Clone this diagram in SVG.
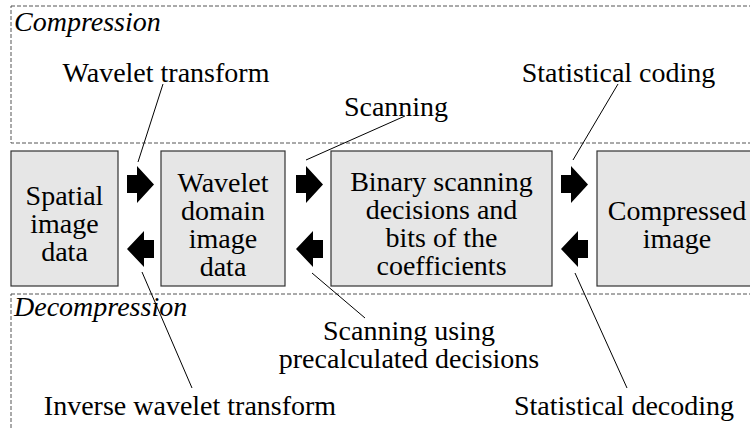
<svg xmlns="http://www.w3.org/2000/svg" width="750" height="430" viewBox="0 0 750 430">
<style>
  .region { fill: none; stroke: #555; stroke-width: 1; stroke-dasharray: 4 2; }
  .box { fill: #e6e6e6; stroke: #333; stroke-width: 1.2; }
  .lead { stroke: #000; stroke-width: 1; fill: none; }
  .arr { fill: #000; }
</style>
<g id="regions">
  <rect class="region" x="11" y="6" width="800" height="137"/>
  <rect class="region" x="11" y="294" width="800" height="200"/>
  <text x="14" y="31" style="font-family:'Liberation Serif',serif;font-size:28px;font-style:italic">Compression</text>
  <text x="14" y="316" style="font-family:'Liberation Serif',serif;font-size:28px;font-style:italic">Decompression</text>
</g>
<g id="n1">
  <rect class="box" x="11" y="151" width="107" height="135"/>
  <text x="64.5" y="205" style="font-family:'Liberation Serif',serif;font-size:28px;text-anchor:middle">Spatial</text>
  <text x="64.5" y="233" style="font-family:'Liberation Serif',serif;font-size:28px;text-anchor:middle">image</text>
  <text x="64.5" y="261" style="font-family:'Liberation Serif',serif;font-size:28px;text-anchor:middle">data</text>
</g>
<g id="n2">
  <rect class="box" x="161" y="151" width="124" height="135"/>
  <text x="223" y="192" style="font-family:'Liberation Serif',serif;font-size:28px;text-anchor:middle">Wavelet</text>
  <text x="223" y="220" style="font-family:'Liberation Serif',serif;font-size:28px;text-anchor:middle">domain</text>
  <text x="223" y="248" style="font-family:'Liberation Serif',serif;font-size:28px;text-anchor:middle">image</text>
  <text x="223" y="276" style="font-family:'Liberation Serif',serif;font-size:28px;text-anchor:middle">data</text>
</g>
<g id="n3">
  <rect class="box" x="331" y="151" width="221" height="135"/>
  <text x="441.5" y="191" style="font-family:'Liberation Serif',serif;font-size:28px;text-anchor:middle">Binary scanning</text>
  <text x="441.5" y="219" style="font-family:'Liberation Serif',serif;font-size:28px;text-anchor:middle">decisions and</text>
  <text x="441.5" y="247" style="font-family:'Liberation Serif',serif;font-size:28px;text-anchor:middle">bits of the</text>
  <text x="441.5" y="275" style="font-family:'Liberation Serif',serif;font-size:28px;text-anchor:middle">coefficients</text>
</g>
<g id="n4">
  <rect class="box" x="597" y="151" width="180" height="135"/>
  <text x="677" y="220" style="font-family:'Liberation Serif',serif;font-size:28px;text-anchor:middle">Compressed</text>
  <text x="677" y="248" style="font-family:'Liberation Serif',serif;font-size:28px;text-anchor:middle">image</text>
</g>
<g id="connectors">
  <polygon class="arr" points="127,175 137,175 137,166 154,184.5 137,203 137,193 127,193"/>
  <polygon class="arr" points="154,240 144,240 144,231 127,249 144,267 144,258 154,258"/>
  <polygon class="arr" points="296,175 306,175 306,166 323,184.5 306,203 306,193 296,193"/>
  <polygon class="arr" points="323,240 313,240 313,231 296,249 313,267 313,258 323,258"/>
  <polygon class="arr" points="561,175 571,175 571,166 588,184.5 571,203 571,193 561,193"/>
  <polygon class="arr" points="588,240 578,240 578,231 561,249 578,267 578,258 588,258"/>
  <line class="lead" x1="163" y1="84" x2="138" y2="162"/>
  <line class="lead" x1="405" y1="116" x2="306" y2="160"/>
  <line class="lead" x1="618" y1="84" x2="573" y2="160"/>
  <line class="lead" x1="142" y1="272" x2="192" y2="388"/>
  <line class="lead" x1="312" y1="273" x2="365" y2="318"/>
  <line class="lead" x1="575" y1="273" x2="627" y2="388"/>
</g>
<g id="labels">
  <text x="166" y="82" style="font-family:'Liberation Serif',serif;font-size:28px;text-anchor:middle">Wavelet transform</text>
  <text x="396" y="116" style="font-family:'Liberation Serif',serif;font-size:28px;text-anchor:middle">Scanning</text>
  <text x="618.5" y="82" style="font-family:'Liberation Serif',serif;font-size:28px;text-anchor:middle">Statistical coding</text>
  <text x="409" y="340" style="font-family:'Liberation Serif',serif;font-size:28px;text-anchor:middle">Scanning using</text>
  <text x="409" y="368" style="font-family:'Liberation Serif',serif;font-size:28px;text-anchor:middle">precalculated decisions</text>
  <text x="190" y="415" style="font-family:'Liberation Serif',serif;font-size:28px;text-anchor:middle">Inverse wavelet transform</text>
  <text x="624" y="415" style="font-family:'Liberation Serif',serif;font-size:28px;text-anchor:middle">Statistical decoding</text>
</g>
</svg>
